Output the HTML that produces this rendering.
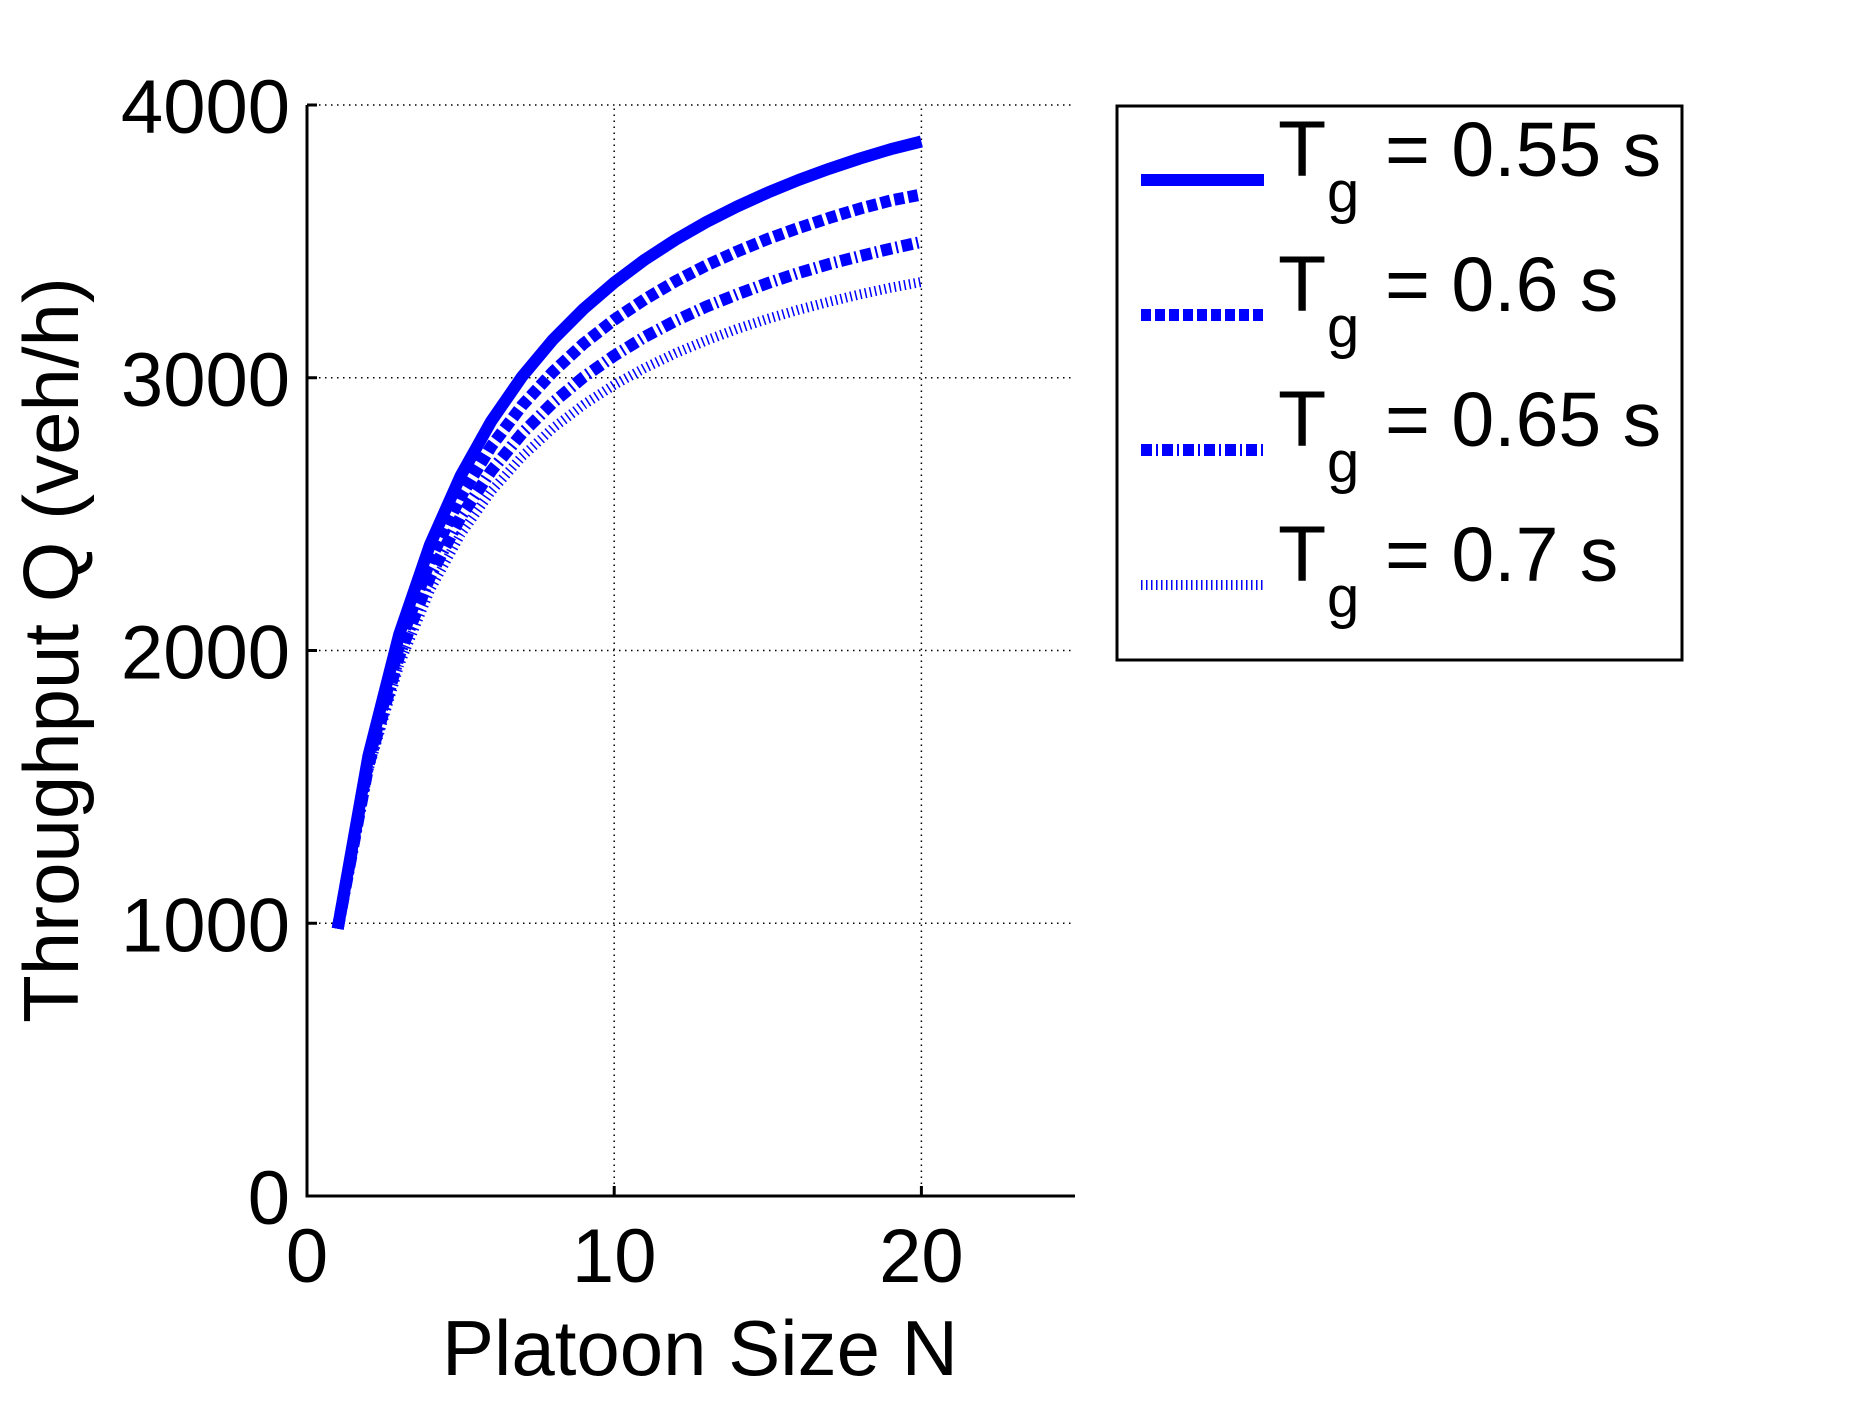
<!DOCTYPE html>
<html><head><meta charset="utf-8"><style>
html,body{margin:0;padding:0;background:#fff;}
svg text{font-family:"Liberation Sans",sans-serif;fill:#000;}
</style></head><body>
<svg id="chart" width="1867" height="1400" viewBox="0 0 1867 1400" xmlns="http://www.w3.org/2000/svg">
<rect width="1867" height="1400" fill="#fff"/>
<g id="grid"></g>
<g id="series"></g>
<g id="axes"></g>
<text x="700" y="1375" font-size="78" text-anchor="middle">Platoon Size N</text>
<text x="0" y="0" font-size="78" text-anchor="middle" transform="translate(78,650) rotate(-90)">Throughput Q (veh/h)</text>
<g id="legend">
<rect x="1117" y="106" width="565" height="554" fill="#fff" stroke="#000" stroke-width="3"/>
</g>
</svg>
<script>
const categories = [1,2,3,4,5,6,7,8,9,10,11,12,13,14,15,16,17,18,19,20];
const seriesLabels = ["0.55","0.6","0.65","0.7"];
const q055 = [980,1614,2059,2387,2640,2841,3004,3139,3252,3349,3433,3506,3571,3628,3679,3725,3766,3804,3838,3866];
const q060 = [980,1596,2020,2329,2564,2749,2898,3021,3125,3213,3288,3354,3412,3463,3509,3549,3586,3620,3650,3672];
const q065 = [980,1578,1981,2270,2489,2659,2796,2908,3002,3081,3150,3209,3261,3306,3347,3384,3417,3446,3473,3498];
const q070 = [980,1562,1947,2221,2426,2584,2711,2815,2901,2974,3036,3090,3137,3179,3216,3249,3279,3306,3330,3351];
const xTicks = [0,10,20];
const yTicks = [0,1000,2000,3000,4000];

const NS = "http://www.w3.org/2000/svg";
const X0 = 307, X1 = 1075, Y0 = 1196, Y1 = 105;
const xMin = 0, xMax = 25, yMin = 0, yMax = 4000;
function sx(v){ return X0 + (v - xMin) / (xMax - xMin) * (X1 - X0); }
function sy(v){ return Y0 - (v - yMin) / (yMax - yMin) * (Y0 - Y1); }
function mk(tag, attrs, parent){ const e = document.createElementNS(NS, tag); for (const k in attrs) e.setAttribute(k, attrs[k]); parent.appendChild(e); return e; }

const grid = document.getElementById('grid');
const axes = document.getElementById('axes');
const series = document.getElementById('series');
const legend = document.getElementById('legend');

yTicks.forEach(v => {
  if (v > 0) {
    const g = mk('line', {x1:X0, x2:X1, y1:sy(v), y2:sy(v), stroke:'#000', 'stroke-width':1.5, 'stroke-dasharray':'1.5 4.5'}, grid);
    
    
  }
  const t = mk('line', {x1:X0, x2:X0+10, y1:sy(v), y2:sy(v), stroke:'#000', 'stroke-width':3}, axes);
  
  
  const l = mk('text', {x:290, y:sy(v)+28, 'font-size':76, 'text-anchor':'end'}, axes);
  l.textContent = v;
  
  
});
xTicks.forEach(v => {
  if (v > 0) {
    const g = mk('line', {x1:sx(v), x2:sx(v), y1:Y0, y2:Y1, stroke:'#000', 'stroke-width':1.5, 'stroke-dasharray':'1.5 4.5'}, grid);
    
    
  }
  const t = mk('line', {x1:sx(v), x2:sx(v), y1:Y0, y2:Y0-10, stroke:'#000', 'stroke-width':3}, axes);
  
  
  const l = mk('text', {x:sx(v), y:1282, 'font-size':76, 'text-anchor':'middle'}, axes);
  l.textContent = v;
  
  
});
const ax = mk('line', {x1:X0, x2:X1, y1:Y0, y2:Y0, stroke:'#000', 'stroke-width':3}, axes);


const ay = mk('line', {x1:X0, x2:X0, y1:Y0+1.5, y2:Y1, stroke:'#000', 'stroke-width':3}, axes);



const styles = [
  {w:12, dash:''},
  {w:12, dash:'10 4'},
  {w:12, dash:'11 4 2 4'},
  {w:10, dash:'1.5 3.5'}
];
const allSeries = [q055, q060, q065, q070];
allSeries.forEach((vals, i) => {
  const d = vals.map((v, j) => (j ? 'L' : 'M') + sx(categories[j]).toFixed(1) + ',' + sy(v).toFixed(1)).join(' ');
  const p = mk('path', {d:d, fill:'none', stroke:'#0000ff', 'stroke-width':styles[i].w, 'stroke-dasharray':styles[i].dash, 'stroke-linejoin':'round'}, series);
  
  

  const ly = 180 + i * 135;
  const ll = mk('line', {x1:1141, x2:1264, y1:ly, y2:ly, stroke:'#0000ff', 'stroke-width':styles[i].w, 'stroke-dasharray':styles[i].dash}, legend);
  
  
  const tT = mk('text', {x:1278, y:ly-4, 'font-size':79}, legend);
  tT.textContent = 'T';
  
  
  const tg = mk('text', {x:1327, y:ly+32, 'font-size':58}, legend);
  tg.textContent = 'g';
  
  
  const tv = mk('text', {x:1385, y:ly-4, 'font-size':77}, legend);
  tv.textContent = '= ' + seriesLabels[i] + ' s';
  
  
});
</script>
</body></html>
